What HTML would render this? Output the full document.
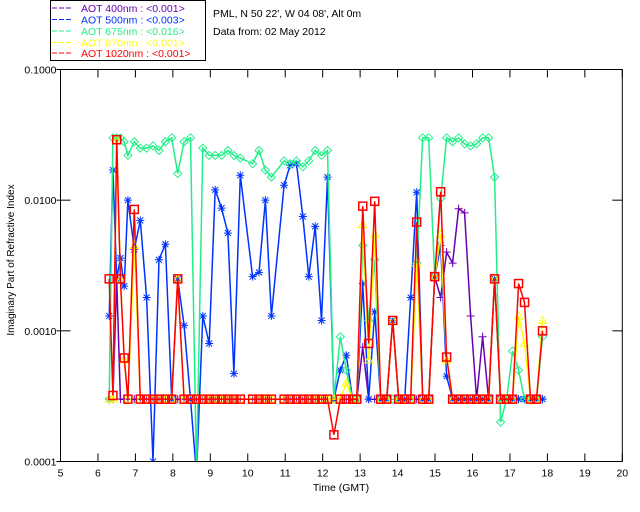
<!DOCTYPE html>
<html><head><meta charset="utf-8"><style>
html,body{margin:0;padding:0;background:#fff;}
svg{display:block;font-family:"Liberation Sans",sans-serif;}
</style></head><body>
<svg id="c" width="640" height="512" viewBox="0 0 640 512">
<rect x="0" y="0" width="640" height="512" fill="#fff"/>
<g>
<rect x="50.5" y="0.5" width="155" height="60" fill="#fff" stroke="#000"/>
<g font-size="10.5">
<line x1="52" y1="8" x2="73" y2="8" stroke="#6a00b0" stroke-dasharray="5,2"/><text x="81" y="12" fill="#6a00b0">AOT  400nm : &lt;0.001&gt;</text>
<line x1="52" y1="19.5" x2="73" y2="19.5" stroke="#0033ff" stroke-dasharray="5,2"/><text x="81" y="23.5" fill="#0033ff">AOT  500nm : &lt;0.003&gt;</text>
<line x1="52" y1="31" x2="73" y2="31" stroke="#22ee88" stroke-dasharray="5,2"/><text x="81" y="35" fill="#22ee88">AOT  675nm : &lt;0.016&gt;</text>
<line x1="52" y1="42.5" x2="73" y2="42.5" stroke="#ffff00" stroke-dasharray="5,2"/><text x="81" y="46.5" fill="#ffff00">AOT  870nm : &lt;0.001&gt;</text>
<line x1="52" y1="53" x2="73" y2="53" stroke="#ff0000" stroke-dasharray="5,2"/><text x="81" y="57" fill="#ff0000">AOT 1020nm : &lt;0.001&gt;</text>
</g></g>
<text x="213" y="17" font-size="10.5">PML, N 50 22', W 04 08', Alt 0m</text>
<text x="213" y="35" font-size="10.5">Data from: 02 May 2012</text>
<text x="341" y="491" font-size="10.5" text-anchor="middle">Time (GMT)</text>
<text transform="translate(14,260) rotate(-90)" font-size="10" text-anchor="middle">Imaginary Part of Refractive Index</text>
<g id="axes"></g>
<defs><clipPath id="clip"><rect x="60.5" y="69.5" width="562" height="392"/></clipPath></defs>
<g id="plot" clip-path="url(#clip)"></g>
<rect x="60.5" y="69.5" width="561.8" height="392" fill="none" stroke="#000"/>
</svg>
<script>
const times=[6.30,6.40,6.50,6.60,6.70,6.80,6.97,7.13,7.30,7.47,7.63,7.80,7.97,8.13,8.30,8.47,8.63,8.80,8.97,9.13,9.30,9.47,9.63,9.80,10.13,10.30,10.47,10.63,10.97,11.13,11.30,11.47,11.63,11.80,11.97,12.13,12.30,12.47,12.63,12.80,12.91,13.07,13.23,13.39,13.55,13.71,13.87,14.03,14.19,14.35,14.51,14.67,14.83,14.99,15.15,15.31,15.47,15.63,15.79,15.95,16.11,16.27,16.43,16.59,16.75,16.91,17.07,17.23,17.39,17.55,17.71,17.87];
const aot400=[3e-4,3e-4,2.5e-3,3e-4,3e-4,3e-4,3e-4,3e-4,3e-4,3e-4,3e-4,3e-4,3e-4,3e-4,3e-4,3e-4,3e-4,3e-4,3e-4,3e-4,3e-4,3e-4,3e-4,3e-4,3e-4,3e-4,3e-4,3e-4,3e-4,3e-4,3e-4,3e-4,3e-4,3e-4,3e-4,3e-4,3e-4,3e-4,3e-4,3e-4,
3e-4,7.5e-4,3e-4,3e-4,3e-4,3e-4,1.2e-3,3e-4,3e-4,3e-4,3e-4,3e-4,3e-4,2.6e-3,1.8e-3,4e-3,3.3e-3,8.6e-3,8e-3,1.3e-3,3e-4,9e-4,3e-4,2.5e-3,3e-4,3e-4,3e-4,3e-4,3e-4,3e-4,3e-4,3e-4];
const aot500=[1.3e-3,1.7e-2,2.5e-3,3.6e-3,2.2e-3,1e-2,4.2e-3,7e-3,1.8e-3,1e-4,3.5e-3,4.6e-3,3e-4,2.5e-3,1.1e-3,3e-4,8e-5,1.3e-3,8e-4,1.2e-2,8.7e-3,5.6e-3,4.7e-4,1.55e-2,2.6e-3,2.8e-3,1e-2,1.3e-3,1.3e-2,1.85e-2,1.9e-2,7.5e-3,2.6e-3,6.3e-3,1.2e-3,1.5e-2,3e-4,5e-4,6.5e-4,3e-4,
3e-4,2.3e-3,3e-4,1.4e-3,3e-4,3e-4,1.2e-3,3e-4,3e-4,1.8e-3,1.15e-2,3e-4,3e-4,2.6e-3,4.5e-3,4.5e-4,3e-4,3e-4,3e-4,3e-4,3e-4,3e-4,3e-4,2.5e-3,3e-4,3e-4,3e-4,3e-4,3e-4,3e-4,3e-4,3e-4];
const aot675=[3e-4,3e-2,3e-2,3e-2,2.8e-2,2.2e-2,2.8e-2,2.5e-2,2.5e-2,2.6e-2,2.4e-2,2.8e-2,3e-2,1.6e-2,2.8e-2,3e-2,8e-5,2.5e-2,2.2e-2,2.2e-2,2.2e-2,2.4e-2,2.2e-2,2.1e-2,1.9e-2,2.4e-2,1.7e-2,1.5e-2,2e-2,1.9e-2,2e-2,1.8e-2,2e-2,2.4e-2,2.2e-2,2.4e-2,3e-4,9e-4,5e-4,3e-4,
3e-4,4.5e-3,1.2e-3,3.5e-3,3e-4,3e-4,3e-4,3e-4,3e-4,3e-4,3.3e-3,3e-2,3e-2,2.6e-3,1.03e-2,3e-2,2.8e-2,3e-2,2.7e-2,2.6e-2,2.7e-2,3e-2,3e-2,1.5e-2,2e-4,3e-4,7e-4,5e-4,3e-4,3e-4,3e-4,9e-4];
const aot870=[3e-4,3e-4,2.9e-2,2.5e-3,6e-4,3e-4,4.5e-3,3e-4,3e-4,3e-4,3e-4,3e-4,3e-4,2.5e-3,3e-4,3e-4,3e-4,3e-4,3e-4,3e-4,3e-4,3e-4,3e-4,3e-4,3e-4,3e-4,3e-4,3e-4,3e-4,3e-4,3e-4,3e-4,3e-4,3e-4,3e-4,3e-4,3e-4,3e-4,4e-4,3e-4,
3e-4,6.5e-3,6e-4,5.5e-3,3e-4,3e-4,1.2e-3,3e-4,3e-4,3e-4,3.3e-3,3e-4,3e-4,2.6e-3,5.5e-3,6e-4,3e-4,3e-4,3e-4,3e-4,3e-4,3e-4,3e-4,2.5e-3,3e-4,3e-4,3e-4,1.3e-3,8e-4,3e-4,3e-4,1.2e-3];
const aot1020=[2.5e-3,3.2e-4,2.9e-2,2.5e-3,6.2e-4,3e-4,8.5e-3,3e-4,3e-4,3e-4,3e-4,3e-4,3e-4,2.5e-3,3e-4,3e-4,3e-4,3e-4,3e-4,3e-4,3e-4,3e-4,3e-4,3e-4,3e-4,3e-4,3e-4,3e-4,3e-4,3e-4,3e-4,3e-4,3e-4,3e-4,3e-4,3e-4,1.6e-4,3e-4,3e-4,3e-4,
3e-4,9e-3,8e-4,9.8e-3,3e-4,3e-4,1.2e-3,3e-4,3e-4,3e-4,6.8e-3,3e-4,3e-4,2.6e-3,1.16e-2,6.3e-4,3e-4,3e-4,3e-4,3e-4,3e-4,3e-4,3e-4,2.5e-3,3e-4,3e-4,3e-4,2.3e-3,1.65e-3,3e-4,3e-4,1e-3];
const xTicks=[5,6,7,8,9,10,11,12,13,14,15,16,17,18,19,20];
const yTicks=[0.1,0.01,0.001,0.0001];
const yTickLabels=["0.1000","0.0100","0.0010","0.0001"];

const NS="http://www.w3.org/2000/svg";
const X0=60.5,X1=622.3,Y0=461.5,Y1=69.5;
function xs(t){return X0+(t-5)/15*(X1-X0);}
function ys(v){return Y1+(-1-Math.log10(v))/3*(Y0-Y1);}
function mk(tag,attrs,parent){const e=document.createElementNS(NS,tag);for(const k in attrs)e.setAttribute(k,attrs[k]);parent.appendChild(e);return e;}
const axes=document.getElementById('axes');
xTicks.forEach(t=>{
  const x=xs(t);
  const tk=mk('line',{x1:x,y1:Y0,x2:x,y2:Y0-8,stroke:'#000'},axes);
  
  
  mk('line',{x1:x,y1:Y1,x2:x,y2:Y1+8,stroke:'#000'},axes);
  const lb=mk('text',{x:x,y:Y0+15,'font-size':10.5,'text-anchor':'middle'},axes);
  lb.textContent=t;
  
  
});
yTicks.forEach((v,i)=>{
  const y=ys(v);
  mk('line',{x1:X0-4,y1:y,x2:X0+10,y2:y,stroke:'#000'},axes);
  mk('line',{x1:X1,y1:y,x2:X1-10,y2:y,stroke:'#000'},axes);
  const lb=mk('text',{x:X0-4,y:y+4,'font-size':10.5,'text-anchor':'end'},axes);
  lb.textContent=yTickLabels[i];
  
  
});
const plot=document.getElementById('plot');
function marker(g,type,x,y,col){
  let e;
  if(type==='plus'){e=mk('path',{d:`M${x-4},${y}H${x+4}M${x},${y-4}V${y+4}`,stroke:col,fill:'none'},g);}
  else if(type==='star'){e=mk('path',{d:`M${x-4},${y}H${x+4}M${x},${y-4}V${y+4}M${x-3},${y-3}L${x+3},${y+3}M${x-3},${y+3}L${x+3},${y-3}`,stroke:col,fill:'none'},g);}
  else if(type==='diamond'){e=mk('path',{d:`M${x},${y-4}L${x+4},${y}L${x},${y+4}L${x-4},${y}Z`,stroke:col,fill:'none'},g);}
  else if(type==='tri'){e=mk('path',{d:`M${x},${y-4}L${x+4},${y+3}L${x-4},${y+3}Z`,stroke:col,fill:'none'},g);}
  else {e=mk('rect',{x:x-4,y:y-4,width:8,height:8,stroke:col,fill:'none','stroke-width':1.5},g);}
  
  
}
const series=[
 {name:'series-400nm',vals:aot400,col:'#6a00b0',m:'plus'},
 {name:'series-500nm',vals:aot500,col:'#0033ff',m:'star'},
 {name:'series-675nm',vals:aot675,col:'#22ee88',m:'diamond'},
 {name:'series-870nm',vals:aot870,col:'#ffff00',m:'tri'},
 {name:'series-1020nm',vals:aot1020,col:'#ff0000',m:'square'}
];
series.forEach(s=>{
  const g=mk('g',{},plot);
  
  
  const pts=times.map((t,i)=>xs(t).toFixed(1)+','+ys(s.vals[i]).toFixed(1)).join(' ');
  const ln=mk('polyline',{points:pts,fill:'none',stroke:s.col,'stroke-width':1.5},g);
  
  
  times.forEach((t,i)=>marker(g,s.m,xs(t),ys(s.vals[i]),s.col));
});
</script>
</body></html>
